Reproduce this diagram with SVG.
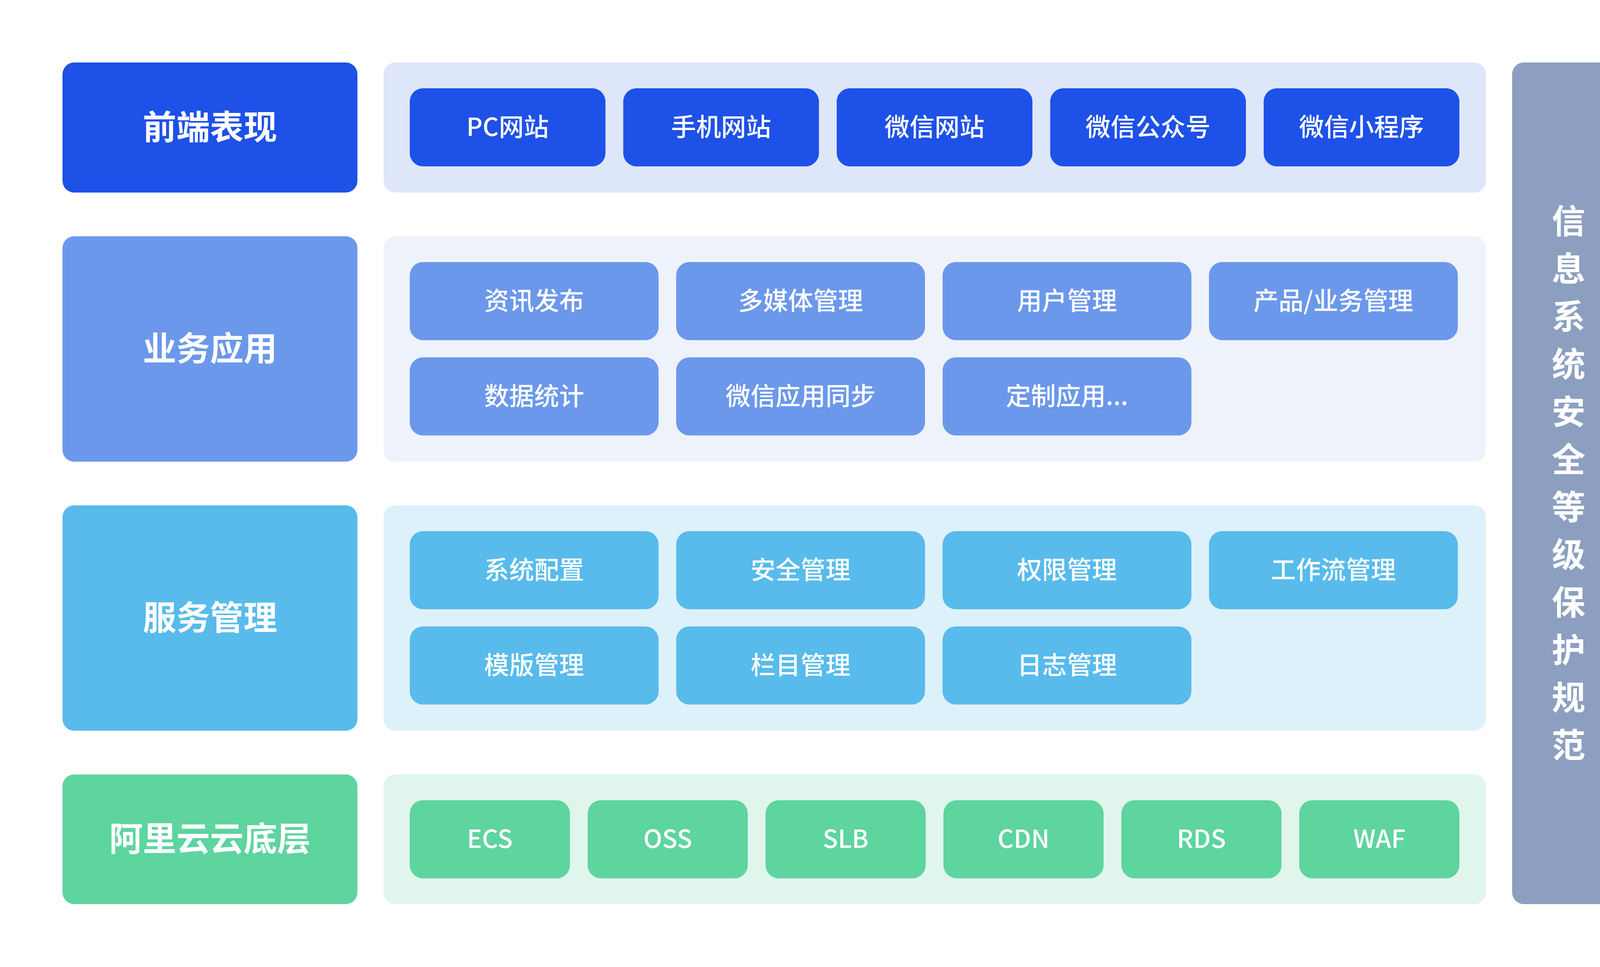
<svg xmlns="http://www.w3.org/2000/svg" width="4320" height="2476" viewBox="0 0 4320 2476">
<style>
text{font-family:"Noto Sans CJK SC","Noto Sans",sans-serif;fill:#fff;text-anchor:middle}
.lbl{font-size:86px;font-weight:700}
.btn{font-size:64px;font-weight:500}
.side{font-size:86px;font-weight:700}
.c1{fill:#1E51E8}.b1{fill:#DEE6FA}
.c2{fill:#6B98EB}.b2{fill:#EEF2FB}
.c3{fill:#58BBEB}.b3{fill:#DDF1FA}
.c4{fill:#5ED49F}.b4{fill:#E0F6ED}
.cs{fill:#8C9FC0}
</style>
<rect width="4320" height="2476" fill="#fff"/>
<g id="layer-frontend">
<rect class="c1" x="160" y="160" width="755" height="333" rx="30"/>
<text class="lbl" x="537.5" y="356.5">前端表现</text>
<rect class="b1" x="982" y="160" width="2822" height="333" rx="30"/>
</g>
<g id="pc" class="node"><rect class="c1" x="1049" y="226" width="501" height="200" rx="34"/><text class="btn" x="1299.5" y="348">PC网站</text></g>
<g id="mobile" class="node"><rect class="c1" x="1595.5" y="226" width="501" height="200" rx="34"/><text class="btn" x="1846" y="348">手机网站</text></g>
<g id="wx-site" class="node"><rect class="c1" x="2142" y="226" width="501" height="200" rx="34"/><text class="btn" x="2392.5" y="348">微信网站</text></g>
<g id="wx-mp" class="node"><rect class="c1" x="2688.5" y="226" width="501" height="200" rx="34"/><text class="btn" x="2939" y="348">微信公众号</text></g>
<g id="wx-mini" class="node"><rect class="c1" x="3235" y="226" width="501" height="200" rx="34"/><text class="btn" x="3485.5" y="348">微信小程序</text></g>

<g id="layer-business">
<rect class="c2" x="160" y="605" width="755" height="577" rx="30"/>
<text class="lbl" x="537.5" y="923.5">业务应用</text>
<rect class="b2" x="982" y="605" width="2822" height="577" rx="30"/>
</g>
<g id="news" class="node"><rect class="c2" x="1049" y="671" width="637" height="200" rx="34"/><text class="btn" x="1367.5" y="793">资讯发布</text></g>
<g id="media" class="node"><rect class="c2" x="1731" y="671" width="637" height="200" rx="34"/><text class="btn" x="2049.5" y="793">多媒体管理</text></g>
<g id="user" class="node"><rect class="c2" x="2413" y="671" width="637" height="200" rx="34"/><text class="btn" x="2731.5" y="793">用户管理</text></g>
<g id="product" class="node"><rect class="c2" x="3095" y="671" width="637" height="200" rx="34"/><text class="btn" x="3413.5" y="793">产品/业务管理</text></g>
<g id="stats" class="node"><rect class="c2" x="1049" y="915" width="637" height="200" rx="34"/><text class="btn" x="1367.5" y="1037">数据统计</text></g>
<g id="wx-sync" class="node"><rect class="c2" x="1731" y="915" width="637" height="200" rx="34"/><text class="btn" x="2049.5" y="1037">微信应用同步</text></g>
<g id="custom" class="node"><rect class="c2" x="2413" y="915" width="637" height="200" rx="34"/><text class="btn" x="2731.5" y="1037">定制应用...</text></g>

<g id="layer-service">
<rect class="c3" x="160" y="1294" width="755" height="577" rx="30"/>
<text class="lbl" x="537.5" y="1612.5">服务管理</text>
<rect class="b3" x="982" y="1294" width="2822" height="577" rx="30"/>
</g>
<g id="sysconf" class="node"><rect class="c3" x="1049" y="1360" width="637" height="200" rx="34"/><text class="btn" x="1367.5" y="1482">系统配置</text></g>
<g id="security" class="node"><rect class="c3" x="1731" y="1360" width="637" height="200" rx="34"/><text class="btn" x="2049.5" y="1482">安全管理</text></g>
<g id="perm" class="node"><rect class="c3" x="2413" y="1360" width="637" height="200" rx="34"/><text class="btn" x="2731.5" y="1482">权限管理</text></g>
<g id="workflow" class="node"><rect class="c3" x="3095" y="1360" width="637" height="200" rx="34"/><text class="btn" x="3413.5" y="1482">工作流管理</text></g>
<g id="template" class="node"><rect class="c3" x="1049" y="1604" width="637" height="200" rx="34"/><text class="btn" x="1367.5" y="1726">模版管理</text></g>
<g id="column" class="node"><rect class="c3" x="1731" y="1604" width="637" height="200" rx="34"/><text class="btn" x="2049.5" y="1726">栏目管理</text></g>
<g id="log" class="node"><rect class="c3" x="2413" y="1604" width="637" height="200" rx="34"/><text class="btn" x="2731.5" y="1726">日志管理</text></g>

<g id="layer-cloud">
<rect class="c4" x="160" y="1983" width="755" height="332" rx="30"/>
<text class="lbl" x="537.5" y="2179">阿里云云底层</text>
<rect class="b4" x="982" y="1983" width="2822" height="332" rx="30"/>
</g>
<g id="ecs" class="node"><rect class="c4" x="1049" y="2049" width="410" height="200" rx="34"/><text class="btn" x="1254" y="2171">ECS</text></g>
<g id="oss" class="node"><rect class="c4" x="1504.4" y="2049" width="410" height="200" rx="34"/><text class="btn" x="1709.4" y="2171">OSS</text></g>
<g id="slb" class="node"><rect class="c4" x="1959.8" y="2049" width="410" height="200" rx="34"/><text class="btn" x="2164.8" y="2171">SLB</text></g>
<g id="cdn" class="node"><rect class="c4" x="2415.2" y="2049" width="410" height="200" rx="34"/><text class="btn" x="2620.2" y="2171">CDN</text></g>
<g id="rds" class="node"><rect class="c4" x="2870.6" y="2049" width="410" height="200" rx="34"/><text class="btn" x="3075.6" y="2171">RDS</text></g>
<g id="waf" class="node"><rect class="c4" x="3326" y="2049" width="410" height="200" rx="34"/><text class="btn" x="3531" y="2171">WAF</text></g>

<g id="security-standard">
<rect class="cs" x="3871" y="160" width="289" height="2155" rx="30"/>
<text class="side" x="4015.5" y="598">信</text>
<text class="side" x="4015.5" y="720">息</text>
<text class="side" x="4015.5" y="842">系</text>
<text class="side" x="4015.5" y="964">统</text>
<text class="side" x="4015.5" y="1086">安</text>
<text class="side" x="4015.5" y="1208">全</text>
<text class="side" x="4015.5" y="1330">等</text>
<text class="side" x="4015.5" y="1452">级</text>
<text class="side" x="4015.5" y="1574">保</text>
<text class="side" x="4015.5" y="1696">护</text>
<text class="side" x="4015.5" y="1818">规</text>
<text class="side" x="4015.5" y="1940">范</text>
</g>
<g id="connectors"/>
</svg>
